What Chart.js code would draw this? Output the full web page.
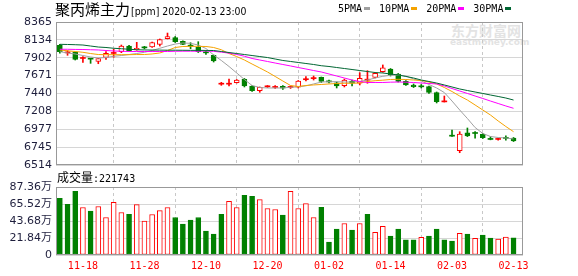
<!DOCTYPE html>
<html>
<head>
<meta charset="utf-8">
<script src="https://cdn.jsdelivr.net/npm/chart.js@4.4.1/dist/chart.umd.min.js"></script>
<style>
  body { margin: 0; background: #fff; width: 578px; height: 276px; overflow: hidden; position: relative; }
  canvas { position: absolute; left: 0; }
  #main { top: 0; }
  #vol { top: 172px; }
  .txt { position: absolute; white-space: nowrap; color: #000; }
  .cjk { font-family: "Noto Sans CJK SC", sans-serif; }
  .mono { font-family: "DejaVu Sans Mono", monospace; font-size: 10px; }
  #title { left: 55px; top: 0; line-height: 17px; }
  #title .cjk { font-size: 15px; }
  #title .lat { display: inline-block; font-family: "DejaVu Sans", sans-serif; font-size: 11px;
    transform: scaleX(0.85); transform-origin: left center; margin-left: 1px; }
  #legend { left: 338px; top: 2px; line-height: 14px; }
  #legend i { display: inline-block; width: 6px; height: 3px; vertical-align: middle; margin: 0 9px 1px 2px; }
  #volTitle { left: 57px; top: 170px; line-height: 14px; }
  #volTitle .cjk { font-size: 12px; }
  #wm1 { left: 451px; top: 20px; font: bold 14px "Noto Sans CJK SC", sans-serif; color: #e3e3e3; }
  #wm2 { left: 450px; top: 37px; font: bold 9px "DejaVu Sans", sans-serif; color: #e3e3e3; }
</style>
</head>
<body>
<div class="txt" id="wm1">东方财富网</div>
<div class="txt" id="wm2">eastmoney.com</div>
<canvas id="main" width="578" height="172"></canvas>
<canvas id="vol" width="578" height="104"></canvas>
<div class="txt" id="title"><span class="cjk">聚丙烯主力</span><span class="lat">[ppm] 2020-02-13 23:00</span></div>
<div class="txt mono" id="legend">5PMA<i style="background:#a0a0a0"></i>10PMA<i style="background:#f5a300"></i>20PMA<i style="background:#ff00ff"></i>30PMA<i style="background:#006633;margin-right:0"></i></div>
<div class="txt" id="volTitle"><span class="cjk">成交量</span><span class="mono">:221743</span></div>
<script>
// trading days shown on the chart
const dates = ['11-13','11-14','11-15','11-18','11-19','11-20','11-21','11-22','11-25','11-26',
  '11-27','11-28','11-29','12-02','12-03','12-04','12-05','12-06','12-09','12-10',
  '12-11','12-12','12-13','12-16','12-17','12-18','12-19','12-20','12-23','12-24',
  '12-25','12-26','12-27','12-30','12-31','01-02','01-03','01-06','01-07','01-08',
  '01-09','01-10','01-13','01-14','01-15','01-16','01-17','01-20','01-21','01-22',
  '01-23','02-03','02-04','02-05','02-06','02-07','02-10','02-11','02-12','02-13'];
const tickDates = ['11-18','11-28','12-10','12-20','01-02','01-14','02-03','02-13'];
const priceTicks = [6514, 6745, 6977, 7208, 7440, 7671, 7902, 8134, 8365];
const volTicks = [0, 21.84, 43.68, 65.52, 87.36];

const open = [8063,7965,7973,7893,7890,7856,7908,7958,7981,8054,8003,8035,8041,8076,8149,8162,8115,8056,8037,7970,
  7934,7560,7560,7579,7623,7537,7476,7526,7518,7533,7518,7520,7618,7632,7649,7594,7579,7541,7601,7572,
  7612,7649,7722,7757,7692,7597,7550,7530,7528,7450,7331,6891,6699,6932,6926,6911,6849,6845,6862,6864];
const high = [8076,7994,7977,7916,7893,7895,7981,8012,8067,8063,8102,8050,8106,8145,8222,8177,8120,8097,8110,7990,
  7938,7584,7627,7621,7634,7541,7524,7543,7541,7543,7537,7608,7660,7666,7653,7614,7588,7627,7614,7709,
  7735,7711,7809,7763,7699,7608,7563,7556,7537,7459,7407,6967,6945,6993,6945,6922,6880,6860,6890,6870];
const low = [7960,7934,7873,7843,7830,7825,7882,7908,7968,7986,8000,8016,8035,8054,8145,8100,8070,8019,7970,7944,
  7847,7545,7537,7575,7524,7468,7455,7517,7505,7491,7505,7511,7601,7614,7582,7575,7511,7524,7537,7550,
  7572,7640,7714,7666,7588,7543,7517,7511,7440,7317,7329,6885,6673,6882,6860,6857,6840,6834,6837,6818];
const close = [7981,7970,7882,7897,7884,7890,7960,7962,8054,7994,8025,8030,8097,8136,8175,8110,8076,8052,7981,7966,
  7860,7564,7566,7614,7537,7476,7520,7530,7522,7507,7522,7601,7628,7640,7597,7590,7537,7614,7572,7636,
  7616,7701,7773,7679,7597,7550,7528,7526,7455,7333,7335,6887,6915,6889,6922,6867,6845,6849,6858,6825];

// volume in 万 (10k), 1 = up day (red hollow)
const volume = [72.9,65.2,81.9,61.0,56.3,62.3,48.2,67.8,54.6,52.4,64.8,43.5,52.0,57.1,61.0,48.2,39.6,44.8,48.2,30.7,
  26.9,52.4,69.1,61.0,76.7,75.5,71.2,59.7,58.4,51.2,81.9,59.7,66.1,48.2,61.4,16.6,33.3,40.5,32.0,40.5,
  52.4,29.0,36.7,24.3,33.3,19.6,19.6,22.6,24.3,33.3,19.6,17.9,27.7,26.9,21.3,25.6,21.7,20.5,23.0,22.1743];
const volUp = [0,0,0,1,0,1,1,1,1,0,1,1,1,1,1,0,0,0,0,0,0,0,1,1,0,0,1,1,1,0,
  1,1,1,1,0,0,0,1,0,1,0,1,1,0,0,0,0,1,0,0,0,0,1,0,1,0,0,1,1,0];

const ma5 = [7981,7964,7951,7931,7912,7899,7905,7921,7931,7944,7957,7973,7996,8025,8054,8080,8093,8089,8067,8022,
  7938,7867,7789,7705,7621,7543,7517,7511,7511,7511,7520,7526,7539,7563,7588,7592,7592,7588,7588,7595,
  7614,7640,7662,7675,7679,7666,7627,7601,7556,7511,7452,7342,7226,7116,6999,6922,6883,6870,6864,6851];
const ma10 = [8003,7992,7983,7973,7957,7944,7942,7942,7942,7942,7944,7944,7951,7964,7996,8035,8048,8050,8050,8048,
  8035,8006,7957,7918,7873,7821,7770,7718,7660,7601,7543,7530,7543,7550,7556,7563,7569,7572,7572,7575,
  7595,7605,7612,7621,7623,7621,7614,7608,7588,7563,7517,7465,7407,7355,7291,7226,7161,7084,7012,6945];
const ma20 = [8012,8012,8010,8009,8006,8003,7996,7990,7986,7983,7983,7983,7983,7983,7983,7986,7987,7987,7986,7990,
  7985,7975,7962,7945,7922,7893,7873,7854,7834,7815,7796,7776,7757,7737,7718,7692,7666,7640,7614,7595,
  7582,7582,7582,7586,7588,7586,7582,7575,7569,7563,7537,7504,7472,7440,7407,7375,7342,7310,7278,7248];
const ma30 = [8076,8074,8071,8067,8054,8041,8035,8025,8019,8012,8006,8003,8002,8001,8000,8000,7999,7998,7998,7997,
  7996,7983,7970,7957,7944,7931,7918,7905,7886,7867,7854,7841,7828,7815,7799,7789,7776,7763,7750,7737,
  7724,7711,7705,7692,7679,7660,7640,7614,7595,7575,7550,7524,7498,7478,7459,7440,7420,7401,7381,7355];

const RED = '#ff0000';
const GREEN = '#008000';
const LABEL = '#1e1e3c';
const tickIdx = tickDates.map(d => dates.indexOf(d));
const isUp = i => close[i] >= open[i];
const bigBody = i => Math.abs(close[i] - open[i]) > 20;

Chart.defaults.font.family = "'DejaVu Sans', 'Noto Sans CJK SC', sans-serif";
Chart.defaults.animation = false;

// grey frame round the plot area
const framePlugin = {
  id: 'frame',
  afterDatasetsDraw(chart) {
    const { ctx, chartArea: a } = chart;
    ctx.save();
    ctx.strokeStyle = '#999';
    ctx.lineWidth = 1;
    ctx.strokeRect(a.left + 0.5, a.top + 0.5, a.right - a.left - 1, a.bottom - a.top - 1);
    ctx.restore();
  }
};

function xScale(showLabels) {
  return {
    type: 'linear',
    min: -0.5,
    max: 60.23,
    offset: false,
    afterBuildTicks: s => { s.ticks = tickIdx.map(v => ({ value: v })); },
    afterFit: s => { s.height = showLabels ? 21 : 0; s.paddingLeft = 0; s.paddingRight = 0; },
    grid: { color: '#c8c8c8', drawTicks: false },
    border: { display: false, dash: [3, 3] },
    ticks: {
      display: showLabels,
      autoSkip: false,
      maxRotation: 0,
      padding: 5,
      color: RED,
      font: { family: "'DejaVu Sans Mono', monospace", size: 10 },
      callback: v => dates[v] || ''
    }
  };
}

function yScale(min, max, ticks, fmt) {
  return {
    min,
    max,
    afterBuildTicks: s => { s.ticks = ticks.map(v => ({ value: v })); },
    afterFit: s => { s.width = 56; s.paddingTop = 0; s.paddingBottom = 0; },
    grid: { color: '#d6d6d6', drawTicks: false },
    border: { display: false },
    ticks: { padding: 4, color: LABEL, font: { size: 11 }, callback: fmt }
  };
}

const pts = arr => arr.map((v, i) => ({ x: i, y: v }));
const maLine = (label, arr, color, order) => ({
  type: 'line', label, data: pts(arr), borderColor: color, borderWidth: 1,
  pointRadius: 0, tension: 0, order
});

new Chart(document.getElementById('main'), {
  type: 'bar',
  data: {
    datasets: [
      {
        label: 'wick',
        data: dates.map((d, i) => ({ x: i, y: [low[i], high[i]] })),
        backgroundColor: dates.map((d, i) => isUp(i) ? RED : GREEN),
        barThickness: 1,
        grouped: false,
        order: 6
      },
      {
        label: 'body',
        data: dates.map((d, i) => ({ x: i, y: [open[i], close[i]] })),
        backgroundColor: ctx => {
          const i = ctx.dataIndex;
          if (!isUp(i)) return GREEN;
          return bigBody(i) ? '#fff' : RED;
        },
        borderColor: ctx => isUp(ctx.dataIndex) ? RED : GREEN,
        borderWidth: ctx => bigBody(ctx.dataIndex) ? 1 : 0,
        borderSkipped: false,
        barThickness: 5,
        minBarLength: 1,
        grouped: false,
        order: 5
      },
      maLine('5PMA', ma5, '#a0a0a0', 4),
      maLine('10PMA', ma10, '#f5a300', 3),
      maLine('20PMA', ma20, '#ff00ff', 2),
      maLine('30PMA', ma30, '#006633', 1)
    ]
  },
  options: {
    responsive: false,
    events: [],
    layout: { padding: { top: 22, right: 55, bottom: 7, left: 0 } },
    plugins: { legend: { display: false }, tooltip: { enabled: false } },
    scales: {
      x: xScale(false),
      y: yScale(6514, 8365, priceTicks, v => String(v))
    }
  },
  plugins: [framePlugin]
});

new Chart(document.getElementById('vol'), {
  type: 'bar',
  data: {
    datasets: [{
      label: 'volume',
      data: pts(volume),
      backgroundColor: volUp.map(u => u ? '#fff' : GREEN),
      borderColor: volUp.map(u => u ? RED : GREEN),
      borderWidth: 1,
      borderSkipped: false,
      barThickness: 5
    }]
  },
  options: {
    responsive: false,
    events: [],
    layout: { padding: { top: 15, right: 55, bottom: 0, left: 0 } },
    plugins: { legend: { display: false }, tooltip: { enabled: false } },
    scales: {
      x: xScale(true),
      y: yScale(0, 87.36, volTicks, v => v === 0 ? '0' : v.toFixed(2) + '万')
    }
  },
  plugins: [framePlugin]
});
</script>
</body>
</html>
